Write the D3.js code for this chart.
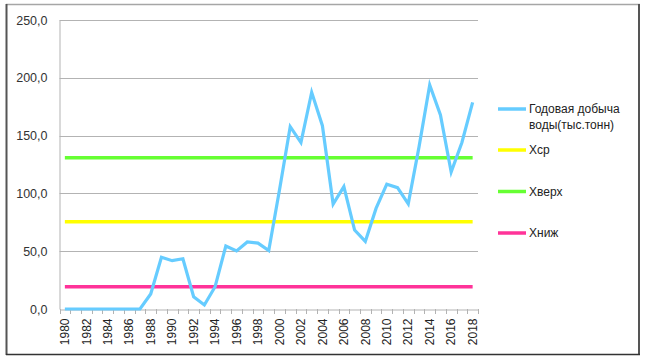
<!DOCTYPE html>
<html><head><meta charset="utf-8">
<script src="https://cdn.jsdelivr.net/npm/d3@7"></script>
<style>body{margin:0;background:#fff;}svg{display:block;font-family:"Liberation Sans",Arial,sans-serif;}</style>
</head><body><svg id="c" width="646" height="361"></svg>
<script>
const years = d3.range(1980, 2019).map(String);
const production = [0,0,0,0,0,0,0,0,13,44.7,41.8,43.5,10.6,3.5,19.3,54.5,50.2,58,57,50.5,103,157.7,144,187.4,158.6,90.8,105.8,68.3,58.5,87,108,105,91,140,193.8,167.8,118.5,144,178.8];
const xMean = 75.5, xUpper = 130.9, xLower = 19.3;
const yTicks = [0,50,100,150,200,250];
const seriesNames = ["Годовая добыча\nводы(тыс.тонн)", "Хср", "Хверх", "Хниж"];
const seriesColors = ["#66CCFF", "#FFFF00", "#66FF33", "#FF3399"];

const svg = d3.select("#c");
// frame
svg.append("line").attr("x1",6).attr("x2",640).attr("y1",4.5).attr("y2",4.5).attr("stroke","#a6a6a6").attr("stroke-width",1.5);
svg.append("line").attr("x1",6.5).attr("x2",6.5).attr("y1",4).attr("y2",355).attr("stroke","#555").attr("stroke-width",2);
svg.append("line").attr("x1",639).attr("x2",639).attr("y1",4).attr("y2",355).attr("stroke","#555").attr("stroke-width",2);
svg.append("line").attr("x1",6).attr("x2",640).attr("y1",354.5).attr("y2",354.5).attr("stroke","#333").attr("stroke-width",1.5);

const x = d3.scaleBand().domain(years).range([59.5, 478]);
const y = d3.scaleLinear().domain([0,250]).range([309, 20]);
const cx = d => x(d) + x.bandwidth()/2;

// gridlines
svg.append("g").selectAll("line").data(yTicks.filter(v=>v>0)).join("line")
  .attr("x1",59.5).attr("x2",478).attr("y1",d=>Math.round(y(d))+0.5).attr("y2",d=>Math.round(y(d))+0.5)
  .attr("stroke","#b3b3b3").attr("stroke-width",1);

// y axis
const ya = svg.append("g").attr("transform","translate(59.5,0)")
  .call(d3.axisLeft(y).tickValues(yTicks).tickSize(0).tickPadding(12).tickFormat(d=>d3.format(".1f")(d).replace(".",",")));
ya.select(".domain").attr("stroke","#b3b3b3");
ya.selectAll("text").attr("font-size",12.5).attr("fill","#333");

// x axis
const xa = svg.append("g").attr("transform","translate(0,309.5)")
  .call(d3.axisBottom(x).tickSize(0).tickValues(years.filter((d,i)=>i%2===0)));
xa.select(".domain").attr("stroke","#b3b3b3");
xa.selectAll(".tick text").attr("font-size",12).attr("fill","#222")
  .attr("transform","rotate(-90)").attr("text-anchor","end").attr("x",-9).attr("y",0).attr("dy","0.35em");
// boundary tick marks
const bounds = years.map(d=>x(d)).concat([x(years[years.length-1])+x.bandwidth()]);
svg.append("g").selectAll("line").data(bounds).join("line")
  .attr("x1",d=>Math.round(d)+0.5).attr("x2",d=>Math.round(d)+0.5).attr("y1",309).attr("y2",314)
  .attr("stroke","#b3b3b3");

// horizontal series
const line = d3.line().x((d,i)=>cx(years[i])).y(d=>y(d));
[[xLower,3],[xMean,1],[xUpper,2]].forEach(([v,ci])=>{
  svg.append("path").attr("d", line(years.map(()=>v))).attr("fill","none")
    .attr("stroke",seriesColors[ci]).attr("stroke-width",3.5);
});
svg.append("path").attr("d", line(production)).attr("fill","none")
  .attr("stroke",seriesColors[0]).attr("stroke-width",3.2).attr("stroke-linejoin","miter");

// legend
const legY = [109, 150, 191.5, 233];
const lg = svg.append("g");
seriesNames.forEach((n,i)=>{
  lg.append("line").attr("x1",498).attr("x2",526).attr("y1",legY[i]).attr("y2",legY[i])
    .attr("stroke",seriesColors[i]).attr("stroke-width",3.5);
  const t = lg.append("text").attr("x",529).attr("y",legY[i]).attr("font-size",12).attr("fill","#222");
  n.split("\n").forEach((s,k)=>t.append("tspan").attr("x",529).attr("dy",k===0?"0.35em":"16").text(s));
});
</script></body></html>
